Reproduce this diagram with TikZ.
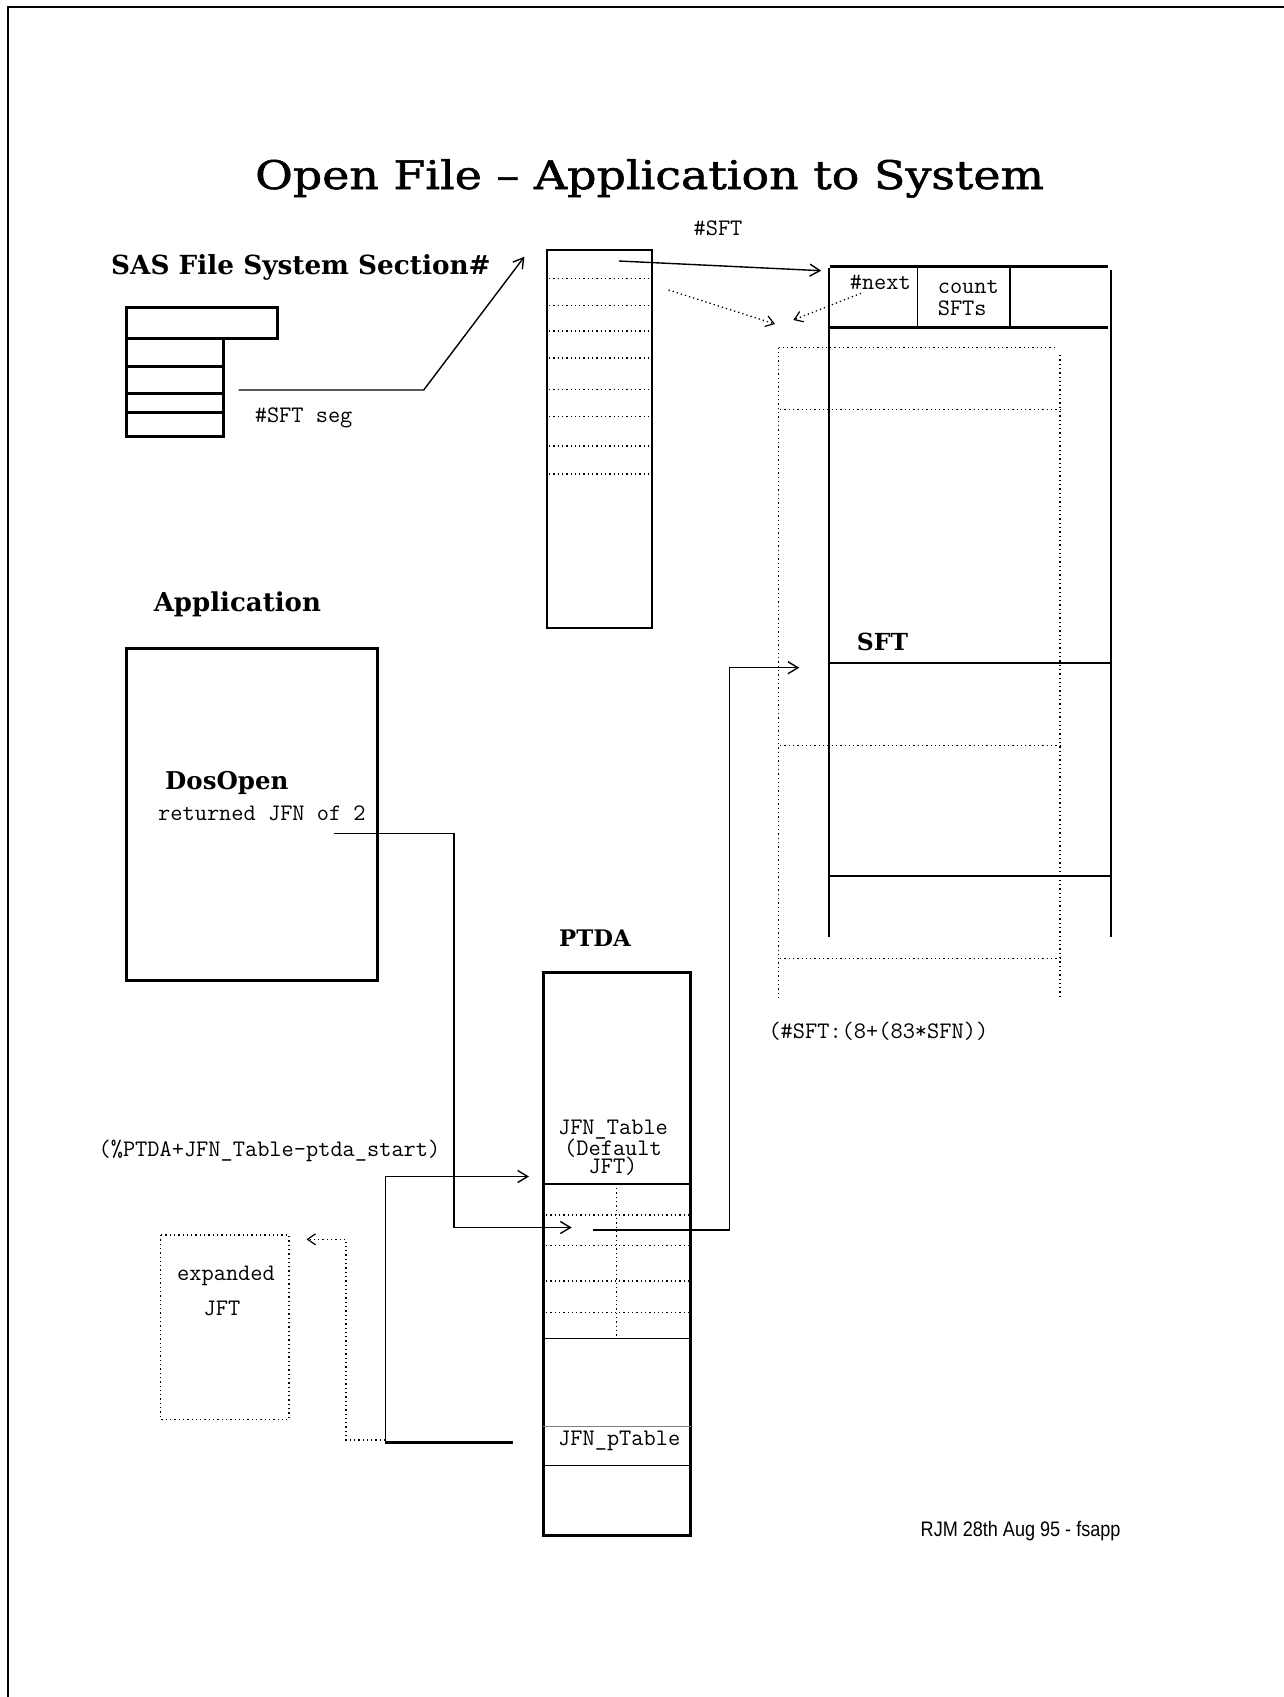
\documentclass[tikz,border=0pt]{standalone}
\usepackage{fontspec}
\usetikzlibrary{arrows.meta}
\newfontfamily\titlefont[FakeBold=1.3]{DejaVu Serif}
\newfontfamily\lblfont{DejaVu Serif}
\newfontfamily\monofont{Latin Modern Mono}
\newfontfamily\credfont{Liberation Sans}
\tikzset{
  heavy/.style={line width=3pt},
  medium/.style={line width=2pt},
  fine/.style={line width=1.4pt},
  dots/.style={line width=1.3pt, dash pattern=on 1.3pt off 3pt},
  conn/.style={line width=1.4pt, -{Straight Barb[length=10pt,width=12pt,line width=1.4pt]}},
  dotconn/.style={line width=1.3pt, dash pattern=on 1.3pt off 3pt, -{Straight Barb[length=8pt,width=11pt,line width=1.2pt]}},
  ttl/.style={font=\titlefont\fontsize{39.4}{44}\selectfont, inner sep=0pt},
  lbl/.style={font=\lblfont\bfseries\fontsize{#1}{28}\selectfont, inner sep=0pt},
  lbl/.default=24.5,
  mono/.style={font=\monofont\fontsize{23.7}{21.4}\selectfont, inner sep=0pt},
  cred/.style={font=\credfont\fontsize{21}{24}\selectfont, inner sep=0pt}
}
\begin{document}
\begin{tikzpicture}[x=1pt,y=-1pt]
\useasboundingbox (0,0) rectangle (1284,1697);
% page border (top and left)
\draw[medium] (8,1697) -- (8,7) -- (1284,7);

% title
\node[ttl, anchor=base west] (title) at (255,189) {\scalebox{1.165}[1]{Open File \textendash{} Application to System}};

% SAS File System Section
\node[lbl=26.3, anchor=base west] (sas) at (111,274) {SAS File System Section\#};
\draw[heavy] (126,307.5) rectangle (277.5,338.5);
\draw[heavy] (126,338.5) rectangle (223,366);
\draw[heavy] (126,366) rectangle (223,393);
\draw[heavy] (126,393) rectangle (223,412);
\draw[heavy] (126,412) rectangle (223,436);
\node[mono, anchor=base west] (sftseg) at (254.6,422.5) {\#SFT seg};

% #SFT column
\node[mono, anchor=base] (sftlbl) at (718,235) {\#SFT};
\draw[medium] (546.5,250) rectangle (651.5,628);
\foreach \yy in {278.5,305.5,331,358,389.5,416.5,446,474}
  \draw[dots] (549,\yy) -- (649,\yy);

% SFT structure
\draw[heavy] (830,266) -- (1108,266);
\draw[heavy] (830,327) -- (1108,327);
\draw[line width=2.4pt] (829,268) -- (829,937);
\draw[line width=2.4pt] (1111,270) -- (1111,937);
\draw[fine] (917.5,266) -- (917.5,327);
\draw[fine] (1010,266) -- (1010,327);
\draw[medium] (829,662.7) -- (1111,662.7);
\draw[line width=2.8pt] (829,876) -- (1111,876);
\node[mono, anchor=base west] (next) at (849.6,289.3) {\#next};
\node[mono, anchor=base west] (count) at (937.6,293.3) {count};
\node[mono, anchor=base west] (sfts) at (937.6,315) {SFTs};
\node[lbl=23.5, anchor=base west] (sftname) at (856.7,650) {SFT};

% dotted extent of SFT
\draw[dots] (778.5,347.5) -- (1054,347.5);
\draw[dots] (778.5,347.5) -- (778.5,998);
\draw[dots] (1060,355) -- (1060,998);
\draw[dots] (780,409.3) -- (1060,409.3);
\draw[dots] (780,745.7) -- (1060,745.7);
\draw[dots] (780,958.3) -- (1060,958.3);
\node[mono, anchor=base west] (formula) at (768.3,1038.5) {(\#SFT:(8+(83*SFN))};

% Application
\node[lbl=26, anchor=base west] (applbl) at (153.6,611.7) {Application};
\draw[heavy] (126.8,648.3) rectangle (377.6,980.5);
\node[lbl, anchor=base west] (dosopen) at (165,789.3) {DosOpen};
\node[mono, anchor=base west] (retjfn) at (158,820.7) {returned JFN of 2};

% PTDA
\node[lbl=22.8, anchor=base west] (ptdalbl) at (559,946.7) {PTDA};
\draw[heavy] (543.2,972.5) rectangle (690.7,1535.5);
\node[mono, anchor=north, align=center] (jt) at (613,1119.8) {JFN\_Table\\(Default\\[-3.8pt]JFT)};
\draw[fine] (543.2,1184) -- (690.7,1184);
\foreach \yy in {1215,1245.7,1281,1312.3}
  \draw[dots] (546,\yy) -- (688,\yy);
\draw[dots] (616.7,1188) -- (616.7,1338);
\draw[fine] (543.2,1338.3) -- (690.7,1338.3);
\draw[line width=1pt, gray] (543.2,1426.7) -- (690.7,1426.7);
\draw[fine] (543.2,1465.7) -- (690.7,1465.7);
\node[mono, anchor=base west] (ptab) at (558,1445) {JFN\_pTable};

% expanded JFT
\draw[dots] (160.8,1235) rectangle (289,1419.3);
\node[mono, anchor=base] (exp1) at (226,1280) {expanded};
\node[mono, anchor=base] (exp2) at (222,1315) {JFT};
\node[mono, anchor=base west] (ptdaoff) at (98.4,1156) {(\%PTDA+JFN\_Table-ptda\_start)};

% credit
\node[cred, anchor=base west] (credit) at (920.5,1536.7) {\scalebox{0.86}[1]{RJM 28th Aug 95 - fsapp}};

% connector end points
\coordinate (sasout) at (238.5,390);
\coordinate (sasbend) at (423.7,390);
\coordinate (coltip) at (524.4,256.7);
\coordinate (sftfrom) at (618.8,261);
\coordinate (sfttip) at (821.2,270.7);
\coordinate (dotfrom) at (668.5,290);
\coordinate (dottip) at (775,324);
\coordinate (nextfrom) at (861,293.3);
\coordinate (nexttip) at (793.3,320);
\coordinate (jfnret) at (333.5,833.5);
\coordinate (jfnbend) at (454,833.5);
\coordinate (slottip) at (571.7,1227.5);
\coordinate (slotfrom) at (593.3,1230);
\coordinate (slotbend) at (729.3,1230);
\coordinate (sftin) at (799.3,667.7);
\coordinate (ptabfrom) at (512.7,1442.7);
\coordinate (ptabbend) at (385.3,1442.7);
\coordinate (jtabtip) at (529,1176.5);
\coordinate (dotstart) at (385.3,1440);
\coordinate (dotbend) at (346,1440);
\coordinate (exptip) at (306.5,1239.3);

% connectors
\draw[conn] (sasout) -- (sasbend) -- (coltip);
\draw[conn] (sftfrom) -- (sfttip);
\draw[dotconn] (dotfrom) -- (dottip);
\draw[dotconn] (nextfrom) -- (nexttip);
\draw[conn] (jfnret) -- (jfnbend) |- (slottip);
\draw[conn] (slotfrom) -- (slotbend) |- (sftin);
\draw[conn] (ptabfrom) -- (ptabbend) |- (jtabtip);
\draw[line width=2.6pt] (ptabfrom) -- (ptabbend);
\draw[dotconn] (dotstart) -- (dotbend) |- (exptip);
\end{tikzpicture}
\end{document}
